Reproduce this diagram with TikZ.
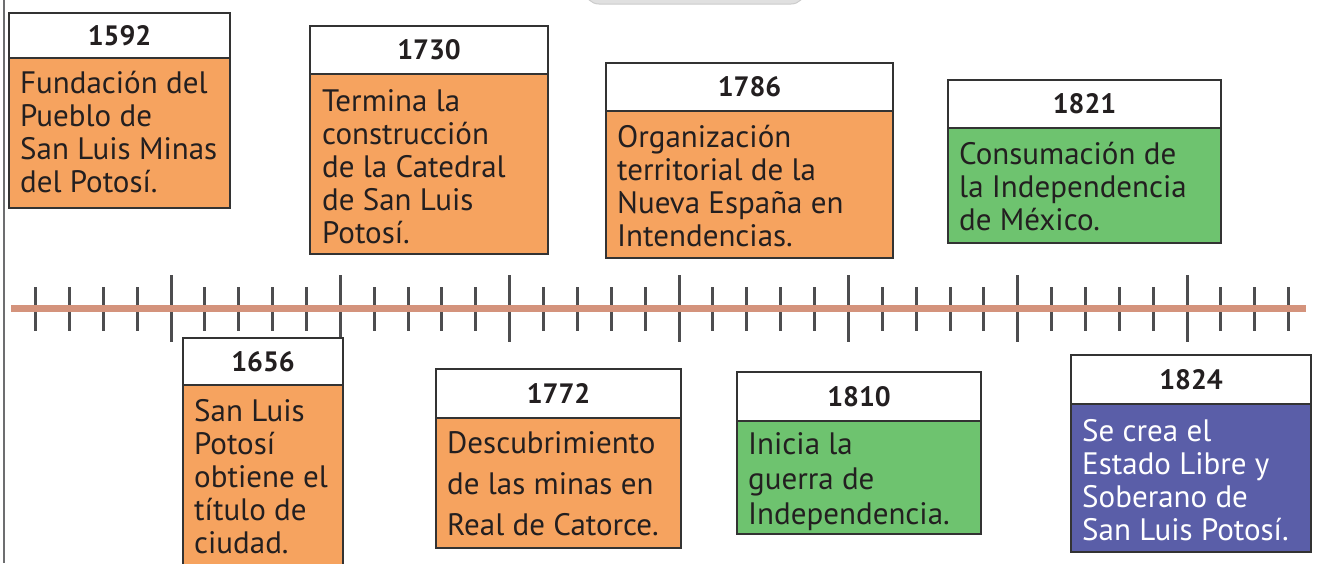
\documentclass[tikz,border=0pt]{standalone}
\usepackage{fontspec}
\setmainfont{PT Sans}
\definecolor{orangebox}{HTML}{F6A35F}
\definecolor{greenbox}{HTML}{6EC36F}
\definecolor{bluebox}{HTML}{5A5EA8}
\definecolor{boxline}{HTML}{333333}
\definecolor{txt}{HTML}{231F20}
\definecolor{axiscol}{HTML}{D4937C}
\definecolor{tickcol}{HTML}{4D4D4F}
\definecolor{leftcol}{HTML}{6D6E70}
\newcommand\evbox[8]{%
  \node[body, fill=#7, anchor=north west, minimum width={#5-#2}, minimum height={#6-#4}] (b#1) at (#2,#4) {};
  \node[hdr, anchor=north west, minimum width={#5-#2}, minimum height={#4-#3}] (h#1) at (#2,#3) {#8};
}
\begin{document}
\begin{tikzpicture}[x=1pt,y=-1pt,
  hdr/.style={draw=boxline, line width=2.2pt, fill=white, inner sep=0pt, font=\fontsize{28}{30}\selectfont\bfseries, text=txt},
  body/.style={draw=boxline, line width=2.2pt, inner sep=0pt},
  btxt/.style={anchor=north west, inner sep=0pt, align=left, text=txt, font=\fontsize{31}{33}\selectfont},
  tick/.style={draw=tickcol, line width=3pt},
  axis/.style={draw=axiscol, line width=7pt},
]
\fill[white] (0,0) rectangle (1318,563);
\useasboundingbox (0,0) rectangle (1318,563);
\clip (0,0) rectangle (1318,563);
% top grey shape
\path[fill=black!12, draw=black!20, line width=1pt, rounded corners=14pt] (585,-30) rectangle (805,4);
% left line
\draw[draw=leftcol, line width=2.5pt] (4,0) -- (4,563);
% ticks
\foreach \i in {-4,...,33}{
  \pgfmathsetmacro\xx{171+\i*33.87}
  \pgfmathtruncatemacro\mm{mod(\i+20,5)}
  \ifnum\mm=0
    \draw[tick] (\xx,275) -- (\xx,342);
  \else
    \draw[tick] (\xx,287) -- (\xx,331);
  \fi
}
% axis
\draw[axis] (11,308) -- (1306,308);
% boxes
\evbox{1592}{8}{12}{57}{229}{207}{orangebox}{1592}
\evbox{1730}{309}{25}{73}{547}{253}{orangebox}{1730}
\evbox{1786}{605}{62}{110}{892}{257}{orangebox}{1786}
\evbox{1821}{947}{79}{127}{1220}{242}{greenbox}{1821}
\evbox{1656}{182}{337}{384}{342}{580}{orangebox}{1656}
\evbox{1772}{435}{368}{417}{680}{547}{orangebox}{1772}
\evbox{1810}{736}{371}{420}{980}{533}{greenbox}{1810}
\evbox{1824}{1070}{354}{403}{1310}{551}{bluebox}{1824}
% texts
\node[btxt] (t1592) at ([shift={(12,13)}]b1592.north west) {\strut Fundación del\\Pueblo de\\San Luis Minas\\del Potosí.};
\node[btxt] (t1730) at ([shift={(13,15)}]b1730.north west) {\strut Termina la\\construcción\\de la Catedral\\de San Luis\\Potosí.};
\node[btxt] (t1786) at ([shift={(12,14)}]b1786.north west) {\strut Organización\\territorial de la\\Nueva España en\\Intendencias.};
\node[btxt] (t1821) at ([shift={(12,14)}]b1821.north west) {\strut Consumación de\\la Independencia\\de México.};
\node[btxt] (t1656) at ([shift={(12,14)}]b1656.north west) {\strut San Luis\\Potosí\\obtiene el\\título de\\ciudad.};
\node[btxt, font=\fontsize{31}{41}\selectfont] (t1772) at ([shift={(12,8)}]b1772.north west) {\strut Descubrimiento\\de las minas en\\Real de Catorce.};
\node[btxt, font=\fontsize{31}{35}\selectfont] (t1810) at ([shift={(12,9.5)}]b1810.north west) {\strut Inicia la\\guerra de\\Independencia.};
\node[btxt, text=white] (t1824) at ([shift={(12,15)}]b1824.north west) {\strut Se crea el\\Estado Libre y\\Soberano de\\San Luis Potosí.};
\end{tikzpicture}
\end{document}
